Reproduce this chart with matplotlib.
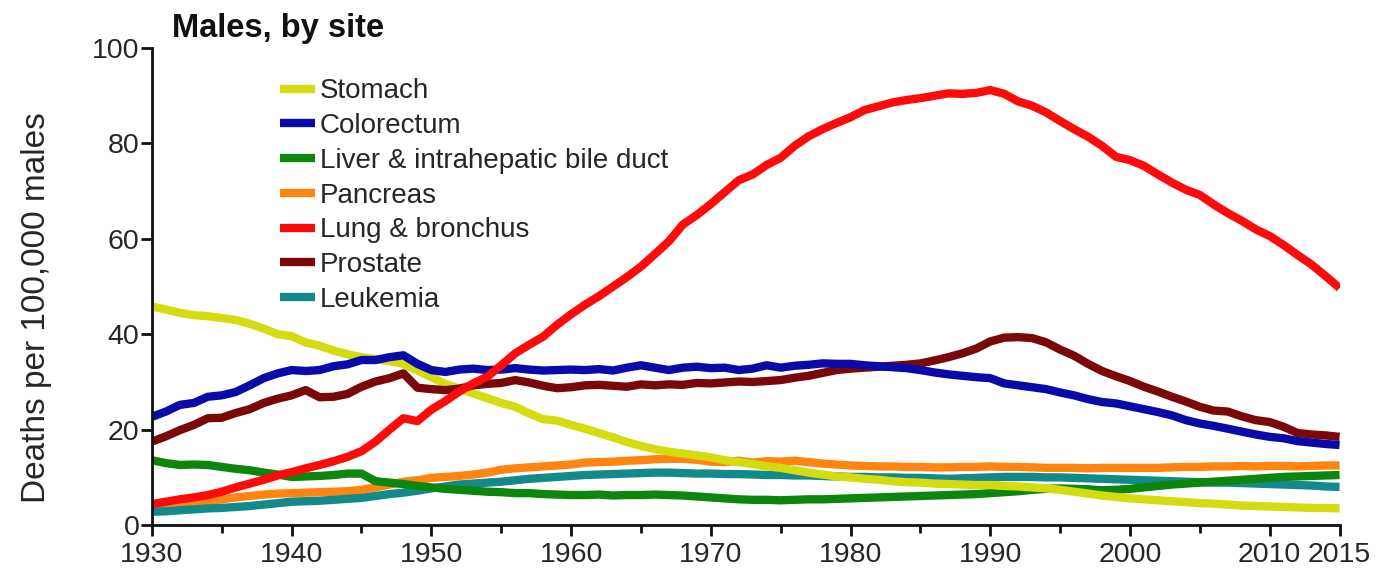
import numpy as np
import matplotlib
matplotlib.use("Agg")
import matplotlib.pyplot as plt
from matplotlib.ticker import MultipleLocator

plt.rcParams['font.family'] = ['Liberation Sans', 'DejaVu Sans']

years = np.arange(1930, 2016)

# death rates per 100,000 males (1930..2015)
stomach = [45.8, 45.2, 44.5, 44.0, 43.8, 43.4, 43.0, 42.2, 41.2, 40.0,
           39.6, 38.3, 37.6, 36.6, 35.8, 35.2, 34.8, 34.4, 33.8, 32.4,
           31.0, 29.6, 28.6, 27.6, 26.6, 25.6, 24.8, 23.4, 22.2, 21.9,
           21.0, 20.2, 19.3, 18.4, 17.4, 16.6, 15.9, 15.4, 15.0, 14.6,
           14.2, 13.6, 13.2, 12.8, 12.3, 12.0, 11.5, 11.0, 10.6, 10.2,
           10.0, 9.7, 9.5, 9.2, 9.0, 8.9, 8.7, 8.6, 8.5, 8.4,
           8.4, 8.2, 8.1, 7.9, 7.7, 7.4, 7.0, 6.6, 6.2, 5.9,
           5.6, 5.4, 5.2, 5.0, 4.8, 4.6, 4.5, 4.3, 4.1, 4.0,
           3.9, 3.8, 3.7, 3.6, 3.6, 3.5]
colorectum = [22.7, 23.8, 25.2, 25.6, 26.9, 27.2, 27.9, 29.3, 30.8, 31.8,
              32.5, 32.3, 32.5, 33.3, 33.7, 34.6, 34.6, 35.2, 35.6, 33.8,
              32.5, 32.1, 32.6, 32.8, 32.5, 32.6, 32.9, 32.6, 32.4, 32.5,
              32.6, 32.5, 32.7, 32.4, 33.0, 33.5, 33.0, 32.5, 33.0, 33.2,
              32.9, 33.0, 32.5, 32.8, 33.5, 33.0, 33.4, 33.6, 33.9, 33.8,
              33.8, 33.5, 33.3, 33.1, 32.9, 32.5, 32.0, 31.6, 31.3, 31.0,
              30.8, 29.7, 29.3, 28.9, 28.5, 27.8, 27.2, 26.4, 25.8, 25.5,
              24.9, 24.3, 23.7, 23.0, 22.0, 21.3, 20.8, 20.2, 19.6, 19.0,
              18.5, 18.2, 17.6, 17.3, 17.0, 16.8]
liver = [13.6, 13.0, 12.6, 12.7, 12.6, 12.2, 11.8, 11.5, 11.0, 10.6,
         10.1, 10.2, 10.3, 10.5, 10.8, 10.8, 9.2, 8.9, 8.6, 8.2,
         7.9, 7.6, 7.4, 7.2, 7.0, 6.9, 6.7, 6.7, 6.5, 6.4,
         6.3, 6.3, 6.4, 6.2, 6.3, 6.3, 6.4, 6.3, 6.2, 6.0,
         5.8, 5.6, 5.4, 5.3, 5.3, 5.2, 5.3, 5.4, 5.4, 5.5,
         5.6, 5.7, 5.8, 5.9, 6.0, 6.1, 6.2, 6.3, 6.4, 6.5,
         6.7, 6.9, 7.1, 7.4, 7.6, 7.7, 7.6, 7.5, 7.3, 7.4,
         7.6, 7.9, 8.2, 8.5, 8.7, 8.9, 9.1, 9.3, 9.5, 9.7,
         9.9, 10.1, 10.2, 10.3, 10.4, 10.5]
pancreas = [3.5, 3.9, 4.3, 4.7, 5.1, 5.4, 5.8, 6.1, 6.4, 6.6,
            6.7, 6.8, 6.9, 7.0, 7.1, 7.4, 7.9, 8.5, 9.1, 9.4,
            9.9, 10.1, 10.3, 10.6, 11.0, 11.6, 11.9, 12.1, 12.3, 12.5,
            12.7, 13.1, 13.2, 13.3, 13.5, 13.6, 13.8, 13.9, 13.9, 13.7,
            13.3, 13.2, 13.5, 13.1, 13.4, 13.3, 13.5, 13.2, 12.9, 12.7,
            12.5, 12.4, 12.3, 12.3, 12.2, 12.2, 12.1, 12.1, 12.2, 12.2,
            12.3, 12.2, 12.2, 12.1, 12.0, 12.0, 12.0, 11.9, 12.0, 12.0,
            12.0, 12.0, 12.0, 12.1, 12.2, 12.2, 12.3, 12.3, 12.4, 12.3,
            12.4, 12.4, 12.3, 12.4, 12.5, 12.5]
lung = [4.4, 4.9, 5.4, 5.8, 6.3, 7.0, 7.9, 8.7, 9.5, 10.4,
        11.1, 11.9, 12.6, 13.4, 14.3, 15.5, 17.5, 20.0, 22.4, 21.8,
        24.2, 26.0, 28.0, 29.7, 31.1, 33.5, 36.0, 37.8, 39.5, 42.0,
        44.2, 46.2, 48.0, 50.0, 52.0, 54.2, 56.8, 59.5, 63.0, 65.0,
        67.3, 69.8, 72.3, 73.5, 75.5, 77.0, 79.5, 81.5, 83.0, 84.3,
        85.5, 87.0, 87.8, 88.6, 89.1, 89.5, 90.0, 90.5, 90.4, 90.6,
        91.2, 90.4, 88.8, 87.9, 86.5, 84.7, 83.0, 81.4, 79.5, 77.2,
        76.5, 75.3, 73.5, 71.8, 70.3, 69.2, 67.2, 65.4, 63.8, 62.0,
        60.6, 58.7, 56.6, 54.6, 52.2, 49.7]
prostate = [17.5, 18.6, 19.9, 21.0, 22.4, 22.5, 23.5, 24.3, 25.6, 26.5,
            27.2, 28.3, 26.8, 26.9, 27.5, 29.0, 30.1, 30.8, 31.8, 28.8,
            28.5, 28.3, 28.6, 29.3, 29.6, 29.8, 30.4, 29.9, 29.2, 28.7,
            28.9, 29.3, 29.4, 29.2, 29.0, 29.5, 29.3, 29.5, 29.4, 29.8,
            29.7, 29.9, 30.1, 30.0, 30.2, 30.4, 30.9, 31.3, 31.9, 32.5,
            32.8, 33.0, 33.2, 33.4, 33.6, 33.9, 34.5, 35.2, 36.0, 37.0,
            38.5, 39.3, 39.4, 39.2, 38.3, 36.8, 35.5, 33.8, 32.3, 31.2,
            30.2, 29.0, 28.0, 26.9, 25.9, 24.8, 24.0, 23.8, 22.8, 22.0,
            21.6, 20.6, 19.3, 19.0, 18.8, 18.5]
leukemia = [2.8, 2.9, 3.1, 3.3, 3.5, 3.6, 3.8, 4.0, 4.3, 4.6,
            4.9, 5.0, 5.1, 5.3, 5.5, 5.7, 6.1, 6.5, 6.8, 7.2,
            7.7, 8.1, 8.5, 8.7, 8.9, 9.1, 9.4, 9.7, 9.9, 10.1,
            10.3, 10.5, 10.6, 10.7, 10.8, 10.9, 11.0, 11.0, 10.9, 10.8,
            10.8, 10.7, 10.7, 10.6, 10.5, 10.5, 10.4, 10.4, 10.3, 10.2,
            10.1, 10.1, 10.0, 10.0, 9.9, 9.9, 9.8, 9.7, 9.8, 9.9,
            10.0, 10.1, 10.1, 10.1, 10.0, 10.0, 9.9, 9.8, 9.7, 9.6,
            9.5, 9.4, 9.3, 9.2, 9.1, 9.0, 8.9, 8.9, 8.8, 8.7,
            8.6, 8.5, 8.4, 8.3, 8.1, 8.0]

labels = ["Stomach", "Colorectum", "Liver & intrahepatic bile duct",
          "Pancreas", "Lung & bronchus", "Prostate", "Leukemia"]
series = [stomach, colorectum, liver, pancreas, lung, prostate, leukemia]
colors = ["#d4dc10", "#0a0aa8", "#0c860c", "#ff8410", "#ff0a0a", "#7a0808", "#138a8a"]

txt = "#262626"
fig = plt.figure(figsize=(13.81, 5.72), dpi=100)
ax = fig.add_axes([0.110, 0.082, 0.860, 0.834])

# draw in an order so lung sits on top like the original
order = [3, 6, 2, 0, 5, 1, 4]
lines = {}
for i in order:
    l, = ax.plot(years, series[i], color=colors[i], lw=6, solid_capstyle="butt",
                 solid_joinstyle="round", label=labels[i])
    lines[i] = l

ax.set_xlim(1930, 2015)
ax.set_ylim(0, 100)
ax.set_xticks([1930, 1940, 1950, 1960, 1970, 1980, 1990, 2000, 2010, 2015])
ax.xaxis.set_minor_locator(MultipleLocator(5))
ax.set_yticks([0, 20, 40, 60, 80, 100])

for s in ["top", "right"]:
    ax.spines[s].set_visible(False)
for s in ["left", "bottom"]:
    ax.spines[s].set_linewidth(2)
    ax.spines[s].set_color("#111111")
ax.tick_params(which="major", direction="out", length=8, width=2,
               labelsize=20.5, colors="#111111", pad=1)
ax.tick_params(axis="x", which="major", pad=4)
ax.tick_params(which="minor", direction="out", length=6, width=2, colors="#111111")
for lab in ax.get_xticklabels() + ax.get_yticklabels():
    lab.set_color(txt)

ax.set_ylabel("Deaths per 100,000 males", fontsize=24, color=txt)
ax.yaxis.set_label_coords(-0.084, 0.455)
fig.text(0.1245, 0.951, "Males, by site", fontsize=23.5, fontweight="bold",
         color="#111111", ha="left", va="center")

leg = ax.legend([lines[i] for i in range(7)], labels, loc="upper left",
                bbox_to_anchor=(0.0913, 0.977), frameon=False, fontsize=20,
                handlelength=1.25, handletextpad=0.18, labelspacing=0.315,
                borderpad=0.2)
for t in leg.get_texts():
    t.set_color(txt)

fig.savefig("out.png", dpi=100, facecolor="white")
